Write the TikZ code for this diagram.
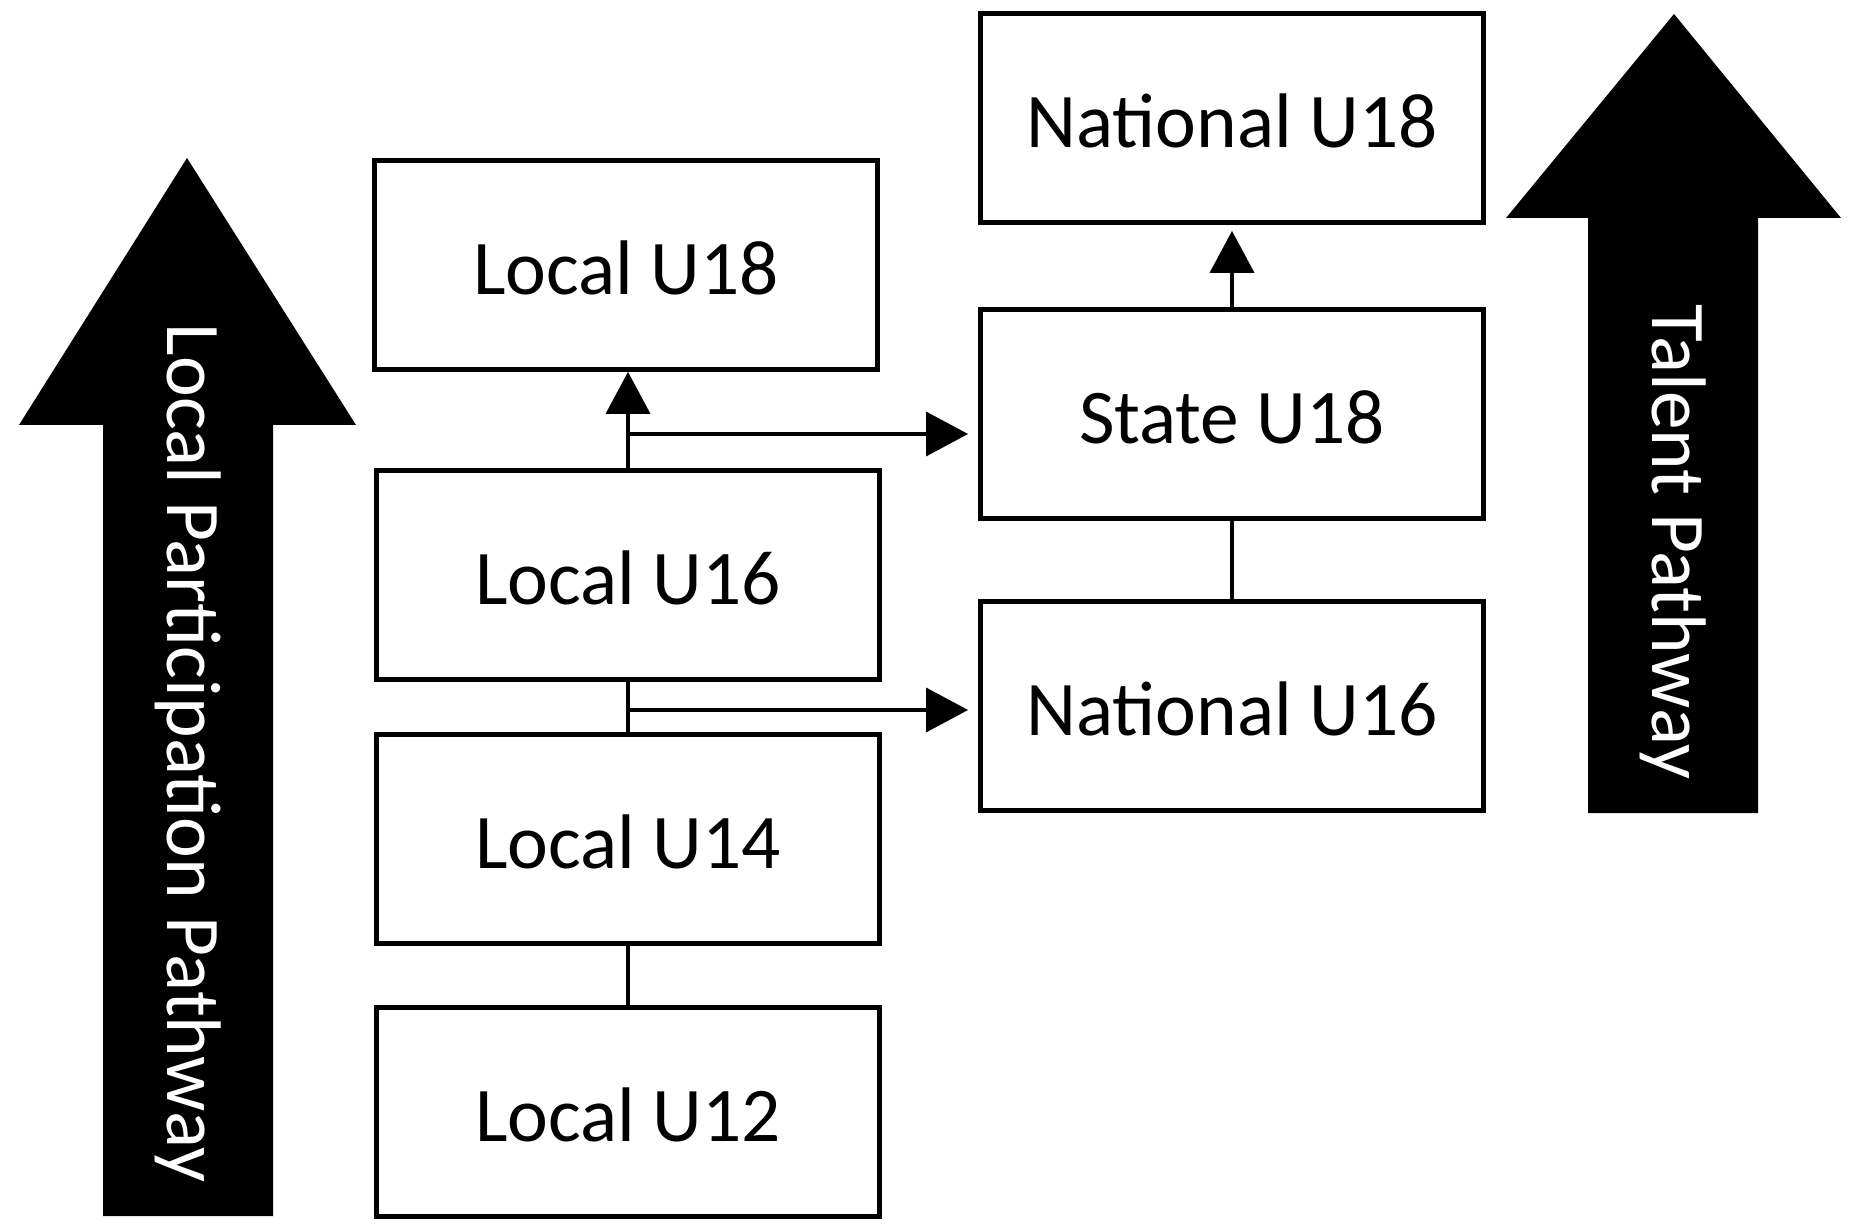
\documentclass[tikz,border=0pt]{standalone}
\usepackage{fontspec}
\setmainfont{Carlito}
\usetikzlibrary{arrows.meta}
\begin{document}
\begin{tikzpicture}[x=0.01cm,y=-0.01cm,
  box/.style={draw, line width=1.3pt, minimum width=5.03cm, minimum height=2.09cm, inner sep=0pt, text height=17pt, text depth=0pt, font=\fontsize{22}{26}\selectfont},
  conn/.style={line width=1pt},
  arr/.style={conn, -{Triangle[length=0.42cm,width=0.44cm]}},
  bigarrow/.style={fill=black},
  biglabel/.style={text=white, rotate=-90, font=\fontsize{22}{26}\selectfont, inner sep=0pt}]
\useasboundingbox (0,0) rectangle (1849,1225);
% big arrows
\fill[bigarrow] (103,1216) -- (103,425) -- (19,425) -- (187,158) -- (356,425) -- (273,425) -- (273,1216) -- cycle;
\fill[bigarrow] (1588,813) -- (1588,218) -- (1506,218) -- (1674,14) -- (1841,218) -- (1758,218) -- (1758,813) -- cycle;
\node[biglabel] (lpp) at (188,753) {Local Participation Pathway};
\node[biglabel] (tp) at (1673,542) {Talent Pathway};
% boxes
\node[box] (lu18) at (626,265) {Local U18};
\node[box] (lu16) at (628,575) {Local U16};
\node[box] (lu14) at (628,839) {Local U14};
\node[box] (lu12) at (628,1112) {Local U12};
\node[box] (nu18) at (1232,118) {National U18};
\node[box] (su18) at (1232,414) {State U18};
\node[box] (nu16) at (1232,706) {National U16};
% connectors
\draw[arr] (lu16.north) -- (lu16.north |- lu18.south);
\coordinate (b1) at (lu16.north |- 0,434);
\draw[arr, shorten >=0.1cm] (b1) -- (b1 -| su18.west);
\draw[conn] (lu14.north) -- (lu14.north |- lu16.south);
\coordinate (b2) at (lu14.north |- 0,710);
\draw[arr, shorten >=0.1cm] (b2) -- (b2 -| nu16.west);
\draw[conn] (lu12.north) -- (lu12.north |- lu14.south);
\draw[arr, shorten >=0.06cm] (su18.north) -- (nu18.south);
\draw[conn] (nu16.north) -- (su18.south);
\end{tikzpicture}
\end{document}
